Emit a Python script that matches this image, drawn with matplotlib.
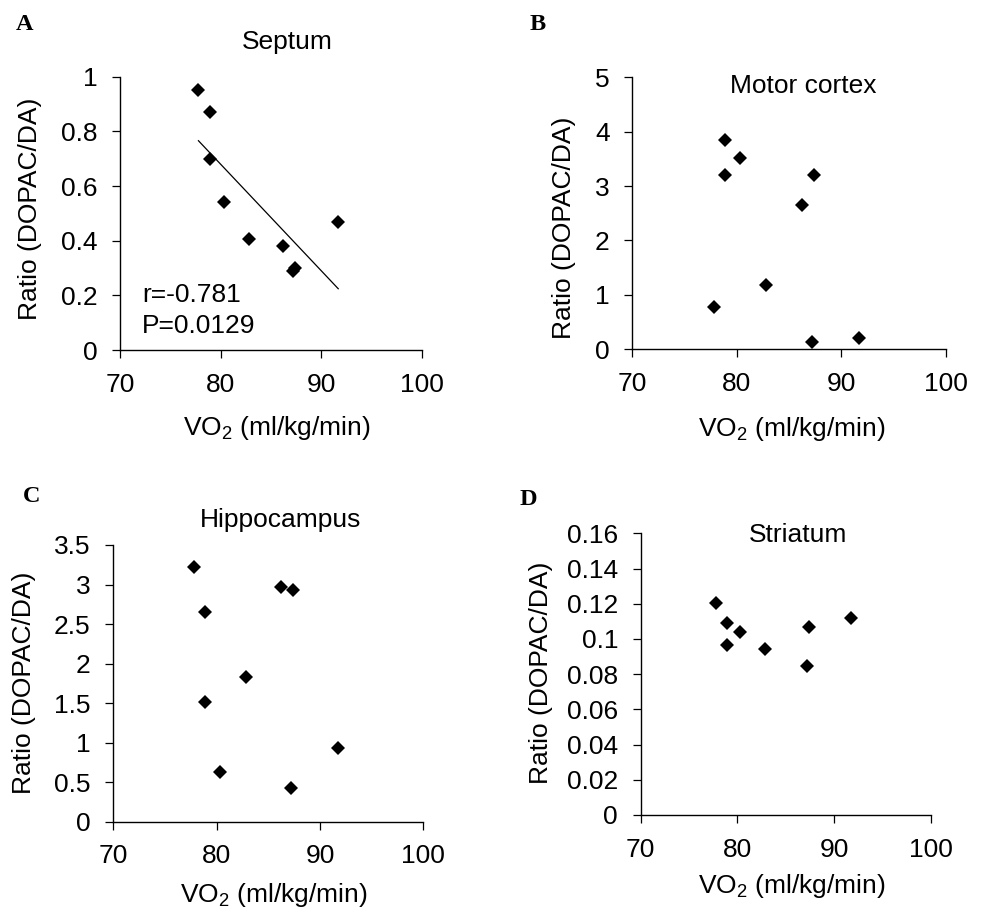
import numpy as np
import matplotlib
matplotlib.use("Agg")
import matplotlib.pyplot as plt

plt.rcParams['font.family'] = ['Liberation Sans', 'DejaVu Sans']
plt.rcParams['mathtext.fontset'] = 'custom'
plt.rcParams['mathtext.rm'] = 'Liberation Sans'
plt.rcParams['mathtext.it'] = 'Liberation Sans:italic'

# data (same 9 animals in every panel)
vo2 = np.array([77.8, 78.9, 78.9, 80.3, 82.8, 86.2, 87.2, 87.4, 91.7])
septum = np.array([0.95, 0.87, 0.70, 0.54, 0.405, 0.38, 0.29, 0.30, 0.47])
motor_cortex = np.array([0.77, 3.85, 3.21, 3.52, 1.18, 2.65, 0.14, 3.21, 0.20])
hippocampus = np.array([3.22, 2.65, 1.52, 0.63, 1.83, 2.97, 0.43, 2.93, 0.93])
striatum = np.array([0.1206, 0.1093, 0.0966, 0.1038, 0.0941, np.nan, 0.0846, 0.107, 0.1117])

titles = ['Septum', 'Motor cortex', 'Hippocampus', 'Striatum']
letters = ['A', 'B', 'C', 'D']
ymax = [1, 5, 3.5, 0.16]
ystep = [0.2, 1, 0.5, 0.02]
xticks = [70, 80, 90, 100]
r_text = 'r=-0.781'
p_text = 'P=0.0129'

W, H = 983, 908
fig = plt.figure(figsize=(W / 100, H / 100), dpi=100)

def fx(x):
    return x / W

def fy(y):
    return 1 - y / H

# pixel boxes of the plot areas: left, top, right, bottom
boxes = [(120, 76.7, 421.7, 350), (632.3, 77.3, 946, 349.3),
         (113.3, 545, 423.3, 821.7), (640.7, 533.3, 931, 815)]
title_pos = [(287, 49.3), (803.7, 92.7), (281, 527.5), (798.5, 541.7)]
letter_pos = [(16, 30), (530, 30), (23, 502), (520, 505)]
xlab_pos = [(276.7, 435), (792, 436), (274, 901.7), (792, 893)]
ylab_pos = [(30, 209), (563.5, 228), (24, 682.5), (541, 672.5)]

series = [septum, motor_cortex, hippocampus, striatum]
fs = 19

for i in range(4):
    l, t, r, b = boxes[i]
    ax = fig.add_axes([fx(l), fy(b), (r - l) / W, (b - t) / H])
    y = series[i]
    ax.plot(vo2, y, 'D', color='black', ms=7.3, mew=0, clip_on=False)
    if i == 0:
        slope, icpt = np.polyfit(vo2, y, 1)
        xs = np.array([vo2.min(), vo2.max()])
        ax.plot(xs, slope * xs + icpt, color='black', lw=0.9)
    ax.set_xlim(70, 100)
    ax.set_ylim(0, ymax[i])
    ax.set_xticks(xticks)
    yt = np.round(np.arange(0, ymax[i] + ystep[i] / 2, ystep[i]), 4)
    ax.set_yticks(yt)
    ax.set_yticklabels([f'{v:g}' for v in yt])
    ax.spines['top'].set_visible(False)
    ax.spines['right'].set_visible(False)
    for s in ['left', 'bottom']:
        ax.spines[s].set_linewidth(1.0)
    ax.tick_params(direction='out', length=5.8, width=0.9, pad=10.5,
                   labelsize=fs, colors='black')
    ax.patch.set_alpha(0)

    fig.text(fx(title_pos[i][0]), fy(title_pos[i][1]), titles[i], fontsize=fs,
             ha='center', va='baseline')
    fig.text(fx(letter_pos[i][0]), fy(letter_pos[i][1]), letters[i], fontsize=17.5,
             fontweight='bold', family='Liberation Serif', ha='left', va='baseline')
    fig.text(fx(xlab_pos[i][0]), fy(xlab_pos[i][1]), r'VO$_\mathregular{2}$ (ml/kg/min)',
             fontsize=fs, ha='center', va='baseline')
    fig.text(fx(ylab_pos[i][0]), fy(ylab_pos[i][1]), 'Ratio (DOPAC/DA)', fontsize=fs,
             ha='center', va='center', rotation=90)

fig.text(fx(142), fy(302), r_text, fontsize=fs, ha='left', va='baseline')
fig.text(fx(142), fy(333), p_text, fontsize=fs, ha='left', va='baseline')

fig.savefig('out.png', dpi=100, facecolor='white')
